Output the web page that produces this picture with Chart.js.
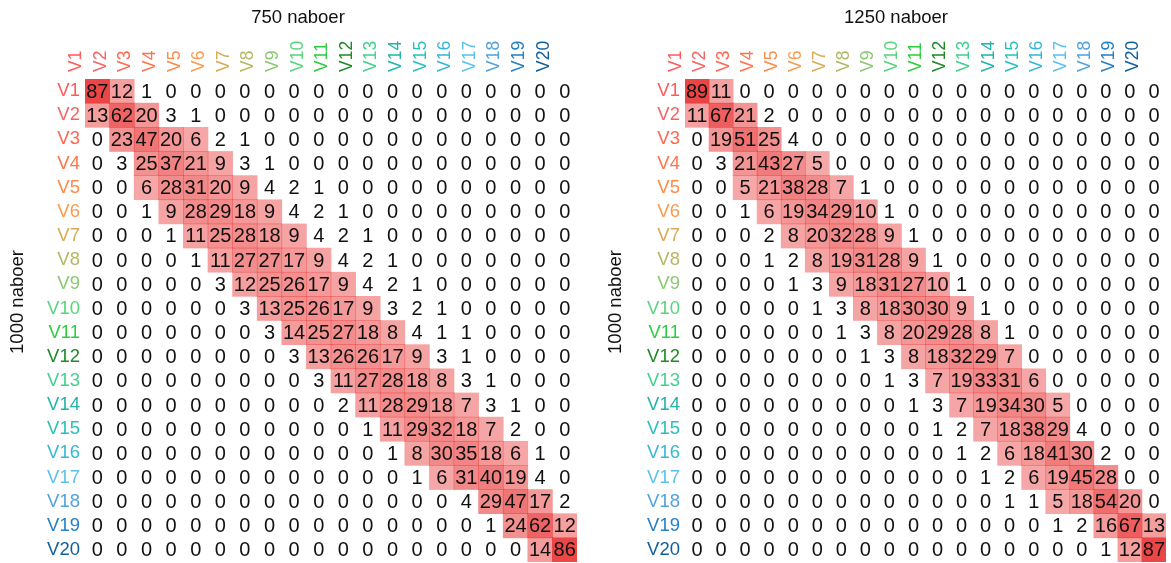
<!DOCTYPE html>
<html>
<head>
<meta charset="utf-8">
<script src="https://cdn.jsdelivr.net/npm/chart.js@4.4.1/dist/chart.umd.min.js"></script>
<style>
  html, body { margin: 0; padding: 0; background: #fff; overflow: hidden; width: 1171px; height: 563px; }
  #left { position: absolute; left: 0; top: 0; }
  #right { position: absolute; left: 598px; top: 0; }
</style>
</head>
<body>
<canvas id="left" width="596" height="563"></canvas>
<canvas id="right" width="596" height="563"></canvas>
<script>
// Category labels (rows and columns share the same names)
const labels = ['V1','V2','V3','V4','V5','V6','V7','V8','V9','V10',
                'V11','V12','V13','V14','V15','V16','V17','V18','V19','V20'];

const labelColors = ['#ff5a5a','#f56464','#ff6650','#ff744a','#ff8a46','#fb9a50','#d8aa55','#b4b862','#8cc872','#58d47e',
                     '#2ecc40','#1e8a28','#44d090','#22b4aa','#2ac0bc','#36b8d4','#5ac2ec','#52a2dc','#2580c4','#11609c'];

// 750 naboer (rows = 1000 naboer)
const m750 = [
  [87,12,1,0,0,0,0,0,0,0,0,0,0,0,0,0,0,0,0,0],
  [13,62,20,3,1,0,0,0,0,0,0,0,0,0,0,0,0,0,0,0],
  [0,23,47,20,6,2,1,0,0,0,0,0,0,0,0,0,0,0,0,0],
  [0,3,25,37,21,9,3,1,0,0,0,0,0,0,0,0,0,0,0,0],
  [0,0,6,28,31,20,9,4,2,1,0,0,0,0,0,0,0,0,0,0],
  [0,0,1,9,28,29,18,9,4,2,1,0,0,0,0,0,0,0,0,0],
  [0,0,0,1,11,25,28,18,9,4,2,1,0,0,0,0,0,0,0,0],
  [0,0,0,0,1,11,27,27,17,9,4,2,1,0,0,0,0,0,0,0],
  [0,0,0,0,0,3,12,25,26,17,9,4,2,1,0,0,0,0,0,0],
  [0,0,0,0,0,0,3,13,25,26,17,9,3,2,1,0,0,0,0,0],
  [0,0,0,0,0,0,0,3,14,25,27,18,8,4,1,1,0,0,0,0],
  [0,0,0,0,0,0,0,0,3,13,26,26,17,9,3,1,0,0,0,0],
  [0,0,0,0,0,0,0,0,0,3,11,27,28,18,8,3,1,0,0,0],
  [0,0,0,0,0,0,0,0,0,0,2,11,28,29,18,7,3,1,0,0],
  [0,0,0,0,0,0,0,0,0,0,0,1,11,29,32,18,7,2,0,0],
  [0,0,0,0,0,0,0,0,0,0,0,0,1,8,30,35,18,6,1,0],
  [0,0,0,0,0,0,0,0,0,0,0,0,0,1,6,31,40,19,4,0],
  [0,0,0,0,0,0,0,0,0,0,0,0,0,0,0,4,29,47,17,2],
  [0,0,0,0,0,0,0,0,0,0,0,0,0,0,0,0,1,24,62,12],
  [0,0,0,0,0,0,0,0,0,0,0,0,0,0,0,0,0,0,14,86]
];

// 1250 naboer (rows = 1000 naboer)
const m1250 = [
  [89,11,0,0,0,0,0,0,0,0,0,0,0,0,0,0,0,0,0,0],
  [11,67,21,2,0,0,0,0,0,0,0,0,0,0,0,0,0,0,0,0],
  [0,19,51,25,4,0,0,0,0,0,0,0,0,0,0,0,0,0,0,0],
  [0,3,21,43,27,5,0,0,0,0,0,0,0,0,0,0,0,0,0,0],
  [0,0,5,21,38,28,7,1,0,0,0,0,0,0,0,0,0,0,0,0],
  [0,0,1,6,19,34,29,10,1,0,0,0,0,0,0,0,0,0,0,0],
  [0,0,0,2,8,20,32,28,9,1,0,0,0,0,0,0,0,0,0,0],
  [0,0,0,1,2,8,19,31,28,9,1,0,0,0,0,0,0,0,0,0],
  [0,0,0,0,1,3,9,18,31,27,10,1,0,0,0,0,0,0,0,0],
  [0,0,0,0,0,1,3,8,18,30,30,9,1,0,0,0,0,0,0,0],
  [0,0,0,0,0,0,1,3,8,20,29,28,8,1,0,0,0,0,0,0],
  [0,0,0,0,0,0,0,1,3,8,18,32,29,7,0,0,0,0,0,0],
  [0,0,0,0,0,0,0,0,1,3,7,19,33,31,6,0,0,0,0,0],
  [0,0,0,0,0,0,0,0,0,1,3,7,19,34,30,5,0,0,0,0],
  [0,0,0,0,0,0,0,0,0,0,1,2,7,18,38,29,4,0,0,0],
  [0,0,0,0,0,0,0,0,0,0,0,1,2,6,18,41,30,2,0,0],
  [0,0,0,0,0,0,0,0,0,0,0,0,1,2,6,19,45,28,0,0],
  [0,0,0,0,0,0,0,0,0,0,0,0,0,1,1,5,18,54,20,0],
  [0,0,0,0,0,0,0,0,0,0,0,0,0,0,0,1,2,16,67,13],
  [0,0,0,0,0,0,0,0,0,0,0,0,0,0,0,0,0,1,12,87]
];

const FONT = "'Liberation Sans', Arial, sans-serif";

// shade only cells of 5 or more, darker for higher values
function cellColor(v) {
    if (v < 5) return 'rgba(0,0,0,0)';
    const a = 0.38 + 0.55 * v / 100;
    return 'rgba(232,40,40,' + a.toFixed(3) + ')';
}

// draws the numbers in every cell
const cellText = {
    id: 'cellText',
    afterDatasetsDraw(chart, args, opts) {
        const {ctx, scales} = chart;
        ctx.save();
        ctx.font = '20px ' + FONT;
        ctx.fillStyle = '#111';
        ctx.textAlign = 'center';
        ctx.textBaseline = 'middle';
        opts.matrix.forEach((row, r) => {
            row.forEach((v, c) => {
                const x = scales.x.getPixelForValue(c);
                const y = scales.y.getPixelForValue(r + 0.5);
                ctx.fillText(String(v), x, y + 1);
            });
        });
        ctx.restore();
    }
};

// panel title above and rotated axis title at the left
const panelTitles = {
    id: 'panelTitles',
    afterDraw(chart, args, opts) {
        const {ctx} = chart;
        ctx.save();
        ctx.font = '18.5px ' + FONT;
        ctx.fillStyle = '#111';
        ctx.textAlign = 'center';
        ctx.textBaseline = 'middle';
        ctx.fillText(opts.title, opts.titleX, 18);
        ctx.translate(18, opts.yTitleY);
        ctx.rotate(-Math.PI / 2);
        ctx.fillText(opts.yTitle, 0, 0);
        ctx.restore();
    }
};

function makeHeatmap(canvasId, title, matrix, yWidth, padRight) {
    const datasets = matrix.map((row, r) => ({
        data: row.map(v => v >= 5 ? [r, r + 1] : null),
        backgroundColor: ctx => cellColor(matrix[r][ctx.dataIndex]),
        borderWidth: 0,
        borderSkipped: false,
        grouped: false,
        barPercentage: 1,
        categoryPercentage: 1
    }));

    new Chart(document.getElementById(canvasId), {
        type: 'bar',
        data: { labels: labels, datasets: datasets },
        plugins: [cellText, panelTitles],
        options: {
            responsive: false,
            animation: false,
            layout: { padding: { right: padRight, bottom: 1, top: 0, left: 0 } },
            plugins: {
                legend: { display: false },
                tooltip: { enabled: false },
                title: { display: false },
                cellText: { matrix: matrix },
                panelTitles: { title: title, titleX: 298, yTitle: '1000 naboer', yTitleY: 302 }
            },
            scales: {
                x: {
                    type: 'category',
                    position: 'top',
                    offset: true,
                    grid: { display: false, drawTicks: false },
                    border: { display: false },
                    ticks: {
                        autoSkip: false,
                        minRotation: 90,
                        maxRotation: 90,
                        padding: 7,
                        font: { family: FONT, size: 17.5 },
                        color: ctx => labelColors[ctx.index]
                    },
                    afterFit: scale => {
                        scale.height = 79;
                        scale.paddingLeft = 0;
                        scale.paddingRight = 0;
                    }
                },
                y: {
                    type: 'linear',
                    min: 0,
                    max: 20,
                    reverse: true,
                    grid: { display: false, drawTicks: false },
                    border: { display: false },
                    afterBuildTicks: scale => {
                        scale.ticks = labels.map((_, i) => ({ value: i + 0.5 }));
                    },
                    ticks: {
                        autoSkip: false,
                        padding: 5,
                        font: { family: FONT, size: 18.5 },
                        color: ctx => labelColors[ctx.index],
                        callback: value => labels[Math.floor(value)]
                    },
                    afterFit: scale => {
                        scale.width = yWidth;
                        scale.paddingTop = 0;
                        scale.paddingBottom = 0;
                    }
                }
            }
        }
    });
}

makeHeatmap('left', '750 naboer', m750, 85, 19);
makeHeatmap('right', '1250 naboer', m1250, 87, 28);
</script>
</body>
</html>
